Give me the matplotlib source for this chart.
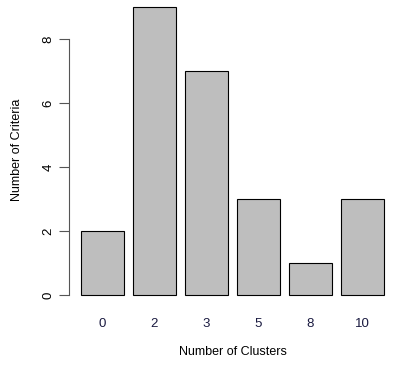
import matplotlib.pyplot as plt

clusters = ["0", "2", "3", "5", "8", "10"]
criteria = [2, 9, 7, 3, 1, 3]

plt.rcParams['font.family'] = ['Liberation Sans', 'DejaVu Sans']

W, H = 397, 371
fig = plt.figure(figsize=(W / 100, H / 100), dpi=100)

# R barplot layout: width 1, space 0.2
xs = [0.7 + 1.2 * i for i in range(len(criteria))]
xmin, xmax = -0.08, 7.48
ymin, ymax = -0.36, 9.22
left_px, right_px = 68.5, 396
bot_px, top_px = 306.5, 0
aw, ah = right_px - left_px, bot_px - top_px
ax = fig.add_axes([left_px / W, 1 - bot_px / H, aw / W, ah / H])

ax.bar(xs, criteria, width=1.0, color="#BEBEBE", edgecolor="black", linewidth=0.8)
ax.set_xlim(xmin, xmax)
ax.set_ylim(ymin, ymax)

for s in ["top", "right", "bottom"]:
    ax.spines[s].set_visible(False)
ax.spines["left"].set_bounds(0, 8)
ax.spines["left"].set_color("#555555")
ax.spines["left"].set_linewidth(0.8)

ax.set_yticks([0, 2, 4, 6, 8])
ax.tick_params(axis="y", length=7, width=0.8, color="#555555", labelsize=9.5, pad=3)
for t in ax.get_yticklabels():
    t.set_rotation(90)
    t.set_va("center")

ax.set_xticks(xs)
ax.set_xticklabels(clusters)
ax.tick_params(axis="x", length=0, labelsize=9.5, pad=8, labelcolor="#1a1a40")

ax.set_xlabel("Number of Clusters", fontsize=9, va="center")
ax.xaxis.set_label_coords((180 + 285) / 2 / W * W / aw - left_px / aw, -(352 - bot_px) / ah)
ax.set_ylabel("Number of Criteria", fontsize=9, va="center")
ax.yaxis.set_label_coords(-(left_px - 17) / aw, (bot_px - 150) / ah)

fig.savefig("out.png", dpi=100)
